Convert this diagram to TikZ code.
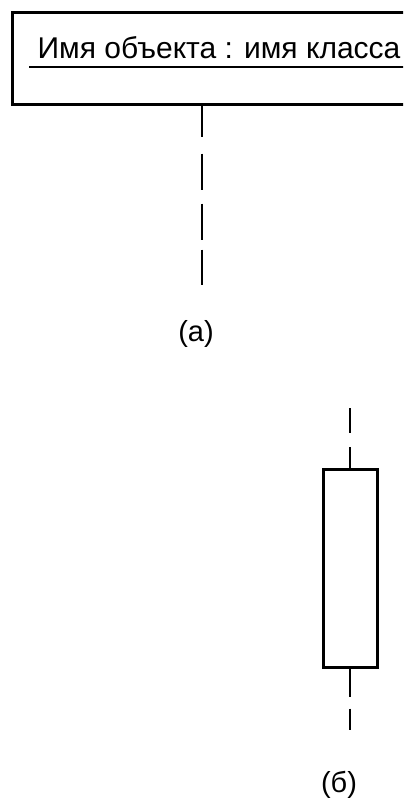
\documentclass[tikz,border=0pt]{standalone}
\usepackage{fontspec}
\setmainfont{Liberation Sans}
\usetikzlibrary{positioning}

\begin{document}
\begin{tikzpicture}[
    x=0.5pt, y=-0.5pt,
    font=\fontsize{15}{18}\selectfont,
    objbox/.style={draw, line width=1.5pt, minimum width=206.5pt, minimum height=46pt, inner sep=0pt},
    actbox/.style={draw, line width=1.5pt, minimum width=27pt, minimum height=99pt, inner sep=0pt},
    lifeline/.style={line width=1.1pt},
    caption/.style={font=\fontsize{14.5}{17}\selectfont},
]
\useasboundingbox (0,0) rectangle (403,800);
\clip (0,0) rectangle (403,800);

% -- (a): object with its lifeline --
\node[objbox] (obj) at (218.5, 58) {};
\node[anchor=base, inner sep=0pt] (objname) at (219, 58) {Имя объекта : имя класса};
\draw[line width=1pt] ([xshift=-4pt, yshift=-4.5pt]objname.base west) -- ([xshift=2pt, yshift=-4.5pt]objname.base east);

\coordinate (aend) at (202, 285);
\draw[lifeline, dash pattern=on 15.5pt off 8.5pt on 18pt off 7pt on 18pt off 5pt on 20pt]
    (aend |- obj.south) -- (aend);
\node[caption] (capa) at (196, 334) {(а)};

% -- (б): activation on a lifeline --
\node[actbox] (act) at (350, 568) {};
\coordinate (btop) at (350, 408);
\coordinate (bbot) at (350, 730);
\draw[lifeline, dash pattern=on 12.5pt off 7pt on 12pt] (btop) -- (act.north);
\draw[lifeline, dash pattern=on 14pt off 6pt on 12pt] (act.south) -- (bbot);
\node[caption] (capb) at (339, 785) {(б)};
\end{tikzpicture}
\end{document}
